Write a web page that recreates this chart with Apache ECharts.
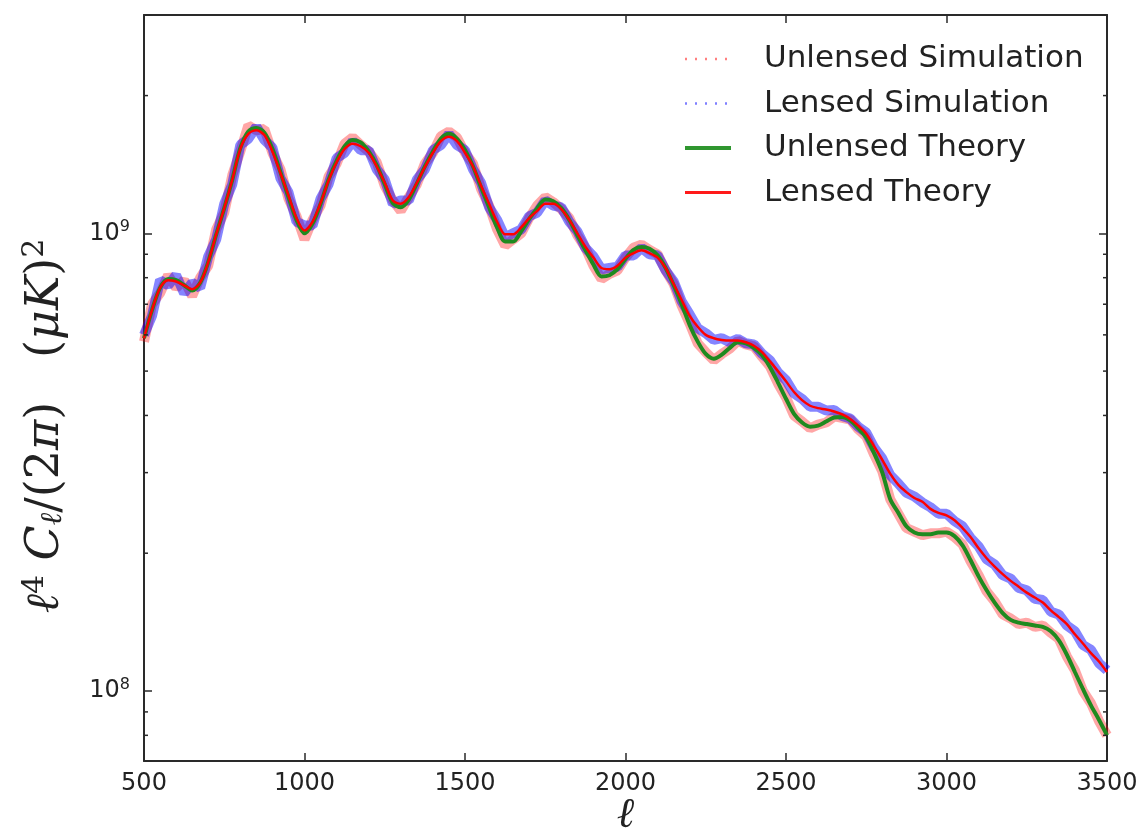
<!DOCTYPE html>
<html><head><meta charset="utf-8">
<script src="https://cdn.jsdelivr.net/npm/echarts@6/dist/echarts.min.js"></script>
<style>html,body{margin:0;padding:0;background:#fff}#c{width:1143px;height:829px}</style>
</head><body><div id="c"></div>
<script>
// multipole l
const ell = [
  500,525,550,575,600,625,650,675,700,725,
  750,775,800,825,850,875,900,925,950,975,
  1000,1025,1050,1075,1100,1125,1150,1175,1200,1225,
  1250,1275,1300,1325,1350,1375,1400,1425,1450,1475,
  1500,1525,1550,1575,1600,1625,1650,1675,1700,1725,
  1750,1775,1800,1825,1850,1875,1900,1925,1950,1975,
  2000,2025,2050,2075,2100,2125,2150,2175,2200,2225,
  2250,2275,2300,2325,2350,2375,2400,2425,2450,2475,
  2500,2525,2550,2575,2600,2625,2650,2675,2700,2725,
  2750,2775,2800,2825,2850,2875,2900,2925,2950,2975,
  3000,3025,3050,3075,3100,3125,3150,3175,3200,3225,
  3250,3275,3300,3325,3350,3375,3400,3425,3450,3475,
  3500];
// values in units of 1e8 (muK)^2
const unlensedSim = [
  5.8,7.0,7.4,8.1,7.6,7.9,7.3,8.0,8.5,10.2,
  11.1,13.4,15.1,17.2,16.8,16.9,15.0,13.8,11.9,10.9,
  9.7,10.7,11.5,13.3,14.2,15.7,16.2,15.6,15.1,14.3,
  12.7,11.8,11.2,12.0,12.8,14.2,15.0,16.3,16.7,16.2,
  15.0,14.2,12.5,11.5,10.2,9.4,9.7,10.0,10.8,11.5,
  12.0,11.7,11.3,10.8,9.9,9.3,8.5,7.95,8.15,8.3,
  8.85,9.3,9.45,9.2,9.0,8.3,7.75,6.95,6.35,5.75,
  5.5,5.28,5.45,5.6,5.82,5.72,5.66,5.38,5.12,4.7,
  4.38,4.0,3.88,3.75,3.82,3.86,3.98,3.95,3.92,3.73,
  3.6,3.28,3.02,2.62,2.44,2.27,2.23,2.19,2.21,2.21,
  2.23,2.17,2.09,1.92,1.79,1.65,1.57,1.47,1.44,1.40,
  1.41,1.38,1.39,1.34,1.30,1.19,1.11,1.0,0.94,0.86,
  0.8];
const lensedSim = [
  6.0,6.6,7.9,7.7,8.1,7.4,7.8,7.6,8.9,9.7,
  11.6,12.8,15.6,16.1,17.1,16.0,15.4,13.2,12.3,10.6,
  10.4,10.4,11.9,12.8,14.6,15.0,15.9,15.2,15.2,13.8,
  13.1,11.6,11.8,11.8,13.1,13.8,15.2,15.6,16.5,15.6,
  15.2,13.8,12.9,11.4,10.7,9.8,10.0,10.2,10.9,11.1,
  11.8,11.5,11.4,10.6,10.1,9.3,8.9,8.35,8.4,8.45,
  8.95,8.95,9.3,9.0,8.95,8.3,7.85,7.1,6.65,6.2,
  6.05,5.85,5.9,5.78,5.88,5.75,5.72,5.46,5.28,4.97,
  4.78,4.47,4.35,4.18,4.18,4.1,4.11,3.99,3.94,3.78,
  3.67,3.4,3.22,2.96,2.84,2.71,2.66,2.58,2.52,2.44,
  2.44,2.35,2.29,2.16,2.07,1.94,1.89,1.79,1.76,1.68,
  1.66,1.59,1.58,1.49,1.47,1.39,1.35,1.26,1.23,1.15,
  1.11];
const unlensedTheory = [
  5.9,6.8,7.6,7.95,7.9,7.7,7.5,7.8,8.65,9.95,
  11.35,13.1,15.35,16.7,17.0,16.6,15.3,13.6,12.0,10.7,
  10.0,10.5,11.6,13.1,14.4,15.5,16.0,15.8,15.1,14.1,
  12.8,11.65,11.4,11.85,12.85,14.0,15.1,16.1,16.5,16.1,
  15.2,14.0,12.6,11.4,10.3,9.6,9.6,10.1,10.75,11.35,
  11.85,11.75,11.35,10.7,9.9,9.2,8.55,8.05,8.1,8.35,
  8.8,9.2,9.33,9.25,8.95,8.4,7.7,7.0,6.3,5.8,
  5.45,5.32,5.43,5.62,5.78,5.75,5.62,5.42,5.1,4.72,
  4.35,4.03,3.86,3.78,3.8,3.88,3.96,3.97,3.9,3.75,
  3.58,3.3,3.0,2.62,2.45,2.29,2.22,2.2,2.2,2.22,
  2.22,2.18,2.08,1.93,1.78,1.66,1.56,1.48,1.43,1.41,
  1.40,1.39,1.38,1.35,1.29,1.2,1.1,1.01,0.93,0.865,
  0.8];
const lensedTheory = [
  5.9,6.8,7.6,7.9,7.85,7.7,7.55,7.8,8.65,9.95,
  11.35,13.1,15.3,16.5,16.8,16.4,15.1,13.55,12.1,10.8,
  10.15,10.6,11.65,13.05,14.3,15.3,15.7,15.5,15.0,14.0,
  12.9,11.8,11.6,12.0,12.9,13.95,15.0,15.9,16.25,15.9,
  15.0,14.0,12.7,11.6,10.6,9.95,9.95,10.3,10.8,11.2,
  11.6,11.6,11.3,10.7,10.0,9.35,8.85,8.4,8.35,8.5,
  8.85,9.05,9.18,9.05,8.85,8.4,7.75,7.15,6.6,6.25,
  6.0,5.9,5.85,5.83,5.83,5.78,5.68,5.5,5.25,5.0,
  4.75,4.5,4.32,4.2,4.15,4.12,4.08,4.02,3.93,3.8,
  3.65,3.42,3.2,2.98,2.82,2.72,2.64,2.59,2.5,2.45,
  2.42,2.36,2.27,2.17,2.05,1.95,1.87,1.8,1.74,1.69,
  1.64,1.6,1.56,1.5,1.45,1.40,1.33,1.27,1.21,1.16,
  1.1];
const seriesNames = ['Unlensed Simulation','Lensed Simulation','Unlensed Theory','Lensed Theory'];
const xTicks = {min: 500, max: 3500, interval: 500};
const yRange = {min: 0.703, max: 30};
const yMinorTicks = [0.8,0.9,2,3,4,5,6,7,8,9,20];

const pairs = arr => ell.map((x, i) => [x, arr[i]]);
const frame = {show: true, onZero: false, lineStyle: {color: '#2a2a2a', width: 2}};
const tick = {show: true, inside: true, length: 8, lineStyle: {color: '#2a2a2a', width: 1.5}};
const FONT = 'DejaVu Sans';
const hidden = {opacity: 0};

const chart = echarts.init(document.getElementById('c'), null, {renderer: 'canvas'});
chart.setOption({
  animation: false,
  backgroundColor: '#fff',
  grid: {left: 144, right: 36, top: 15, bottom: 68, containLabel: false, outerBoundsMode: 'none'},
  xAxis: [{
    type: 'value', position: 'bottom', min: xTicks.min, max: xTicks.max, interval: xTicks.interval,
    axisLine: frame, axisTick: tick, splitLine: {show: false},
    axisLabel: {fontSize: 24, color: '#222', margin: 11, fontFamily: FONT, formatter: v => String(v)},
    name: 'ℓ', nameLocation: 'middle', nameGap: 34, nameMoveOverlap: false,
    nameTextStyle: {fontFamily: 'DejaVu Serif', fontStyle: 'italic', fontSize: 42, color: '#222'}
  }, {
    type: 'value', position: 'top', min: xTicks.min, max: xTicks.max, interval: xTicks.interval,
    axisLine: frame, axisTick: tick, splitLine: {show: false}, axisLabel: {show: false}
  }],
  yAxis: [{
    type: 'log', logBase: 10, position: 'left', min: yRange.min, max: yRange.max,
    axisLine: frame, axisTick: tick, splitLine: {show: false},
    axisLabel: {
      margin: 14, color: '#222',
      formatter: function (v) {
        const e = Math.log10(v);
        if (Math.abs(e - Math.round(e)) > 1e-6) return '';
        return '{b|10}{s|' + (Math.round(e) + 8) + '}';
      },
      rich: {
        b: {fontSize: 24, fontFamily: FONT, color: '#222'},
        s: {fontSize: 16, fontFamily: FONT, color: '#222', verticalAlign: 'bottom', padding: [0, 0, 12, 0]}
      }
    },
    name: '{i|ℓ}{sp|4}{n| }{i|C}{sb|ℓ}{n|/(2}{i|π}{n|)   (}{i|μK}{n|)}{sp|2}{g|}',
    nameLocation: 'middle', nameRotate: 90, nameGap: 72, nameMoveOverlap: false,
    nameTextStyle: {
      rich: {
        g: {width: 76},
        i: {fontFamily: 'DejaVu Serif', fontStyle: 'italic', fontSize: 46, color: '#222'},
        n: {fontFamily: 'DejaVu Serif', fontSize: 46, color: '#222'},
        sp: {fontFamily: 'DejaVu Serif', fontSize: 30, color: '#222', verticalAlign: 'bottom', padding: [0, 0, 22, 0]},
        sb: {fontFamily: 'DejaVu Serif', fontStyle: 'italic', fontSize: 30, color: '#222', verticalAlign: 'top', padding: [18, 0, 0, 0]}
      }
    }
  }, {
    type: 'log', logBase: 10, position: 'right', min: yRange.min, max: yRange.max,
    axisLine: frame, axisTick: tick, splitLine: {show: false}, axisLabel: {show: false}
  }],
  legend: {
    orient: 'vertical', left: 678, top: 36, itemWidth: 46, itemHeight: 14, itemGap: 8.5,
    textStyle: {fontSize: 31, fontFamily: FONT, color: '#222', lineHeight: 36, padding: [0, 0, 0, 28]},
    data: [
      {name: seriesNames[0], itemStyle: hidden, lineStyle: {type: [2, 8], width: 2.5, opacity: 0.5, color: '#ff0000'}},
      {name: seriesNames[1], itemStyle: hidden, lineStyle: {type: [2, 8], width: 2.5, opacity: 0.5, color: '#0000ff'}},
      {name: seriesNames[2], itemStyle: hidden, lineStyle: {width: 4, color: '#2f962f'}},
      {name: seriesNames[3], itemStyle: hidden, lineStyle: {width: 3, color: '#ff1a1a'}}
    ]
  },
  series: [
    {name: seriesNames[0], type: 'line', symbol: 'none', data: pairs(unlensedSim), z: 1,
     itemStyle: {color: '#ff0000'}, lineStyle: {color: '#ff0000', width: 10, opacity: 0.35}},
    {name: seriesNames[1], type: 'line', symbol: 'none', data: pairs(lensedSim), z: 2,
     itemStyle: {color: '#0000ff'}, lineStyle: {color: '#0000ff', width: 10, opacity: 0.48}},
    {name: seriesNames[2], type: 'line', symbol: 'none', data: pairs(unlensedTheory), z: 3, smooth: 0.3,
     itemStyle: {color: '#1f8a1f'}, lineStyle: {color: '#1f8a1f', width: 4}},
    {name: seriesNames[3], type: 'line', symbol: 'none', data: pairs(lensedTheory), z: 4, smooth: 0.3,
     itemStyle: {color: '#ff0000'}, lineStyle: {color: '#ff0000', width: 2.5}},
    {type: 'custom', z: 5, silent: true, data: yMinorTicks.map(v => [xTicks.min, v]),
     renderItem: function (params, api) {
       const cs = params.coordSys;
       const y = api.coord([xTicks.min, api.value(1)])[1];
       const st = {stroke: '#2a2a2a', lineWidth: 1.5};
       return {type: 'group', children: [
         {type: 'line', shape: {x1: cs.x, y1: y, x2: cs.x + 4, y2: y}, style: st},
         {type: 'line', shape: {x1: cs.x + cs.width, y1: y, x2: cs.x + cs.width - 4, y2: y}, style: st}
       ]};
     }}
  ]
});
</script></body></html>
